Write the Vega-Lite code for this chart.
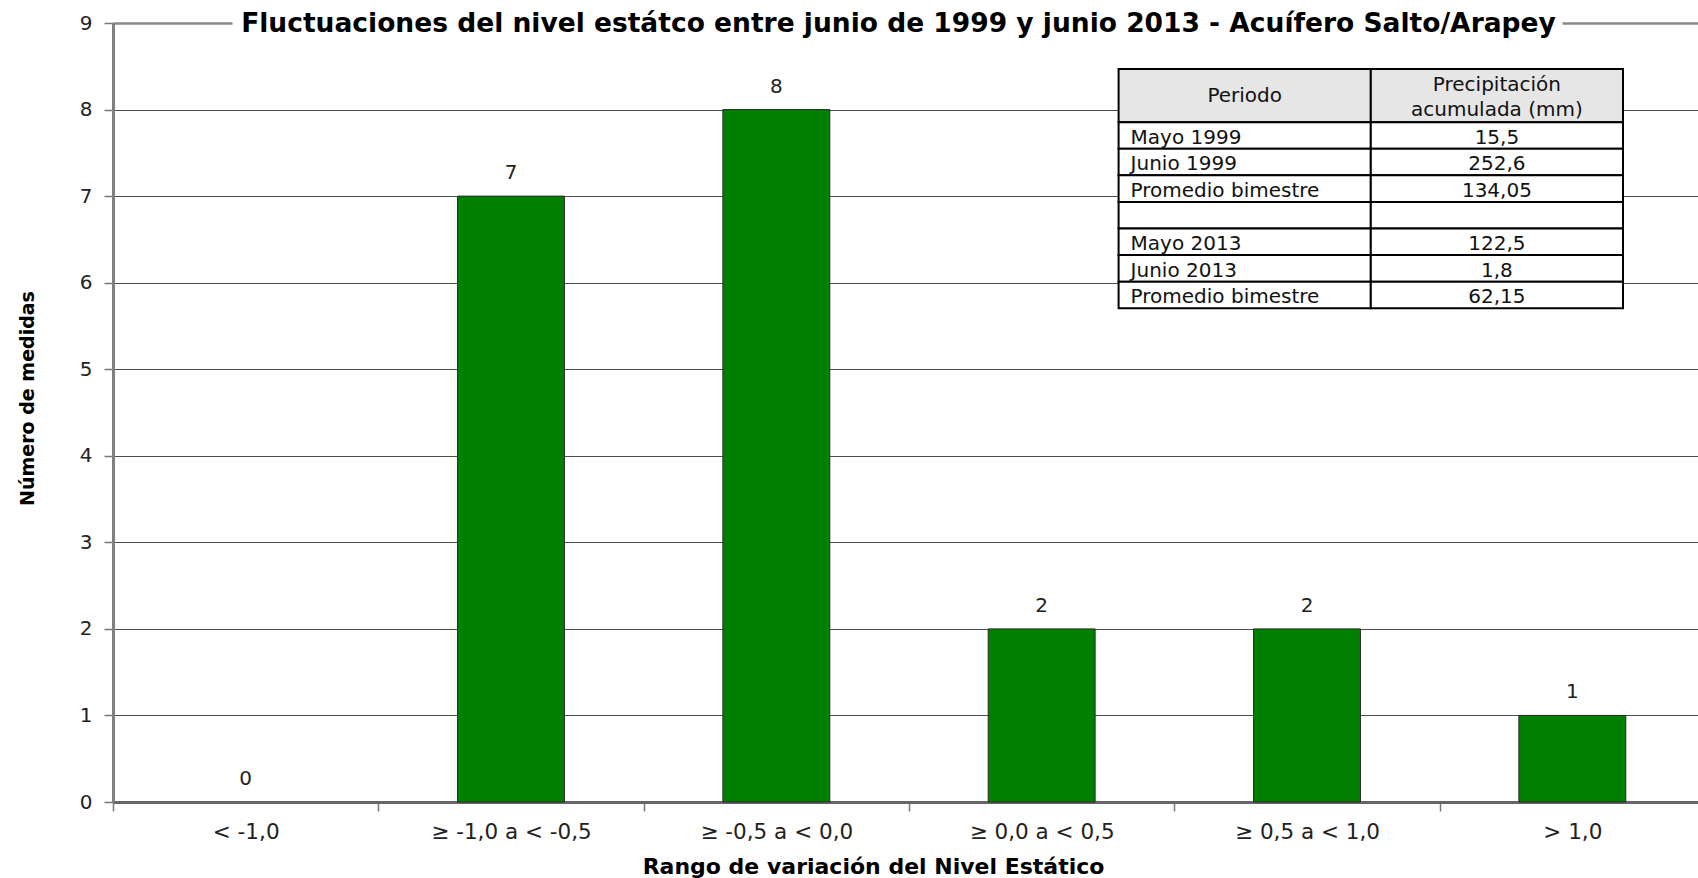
{
  "$schema": "https://vega.github.io/schema/vega-lite/v6.json",
  "width": 1585,
  "height": 779,
  "autosize": {"type": "none"},
  "padding": {"left": 113, "top": 23, "right": 0, "bottom": 76},
  "background": "white",
  "config": {"view": {"stroke": null}, "font": "DejaVu Sans", "text": {"font": "DejaVu Sans"}},
  "title": {
    "text": "Fluctuaciones del nivel estátco entre junio de 1999 y  junio 2013 - Acuífero Salto/Arapey",
    "font": "DejaVu Sans",
    "fontWeight": "bold",
    "fontSize": 26.5,
    "color": "#000000",
    "frame": "group",
    "anchor": "middle",
    "baseline": "middle",
    "offset": 0,
    "dx": -7,
    "dy": 37
  },
  "datasets": {
    "barras": [
      {"rango": "< -1,0", "medidas": 0},
      {"rango": "≥ -1,0 a  < -0,5", "medidas": 7},
      {"rango": "≥ -0,5 a < 0,0", "medidas": 8},
      {"rango": "≥ 0,0 a < 0,5", "medidas": 2},
      {"rango": "≥ 0,5 a < 1,0", "medidas": 2},
      {"rango": "> 1,0", "medidas": 1}
    ],
    "tabla": [
      {"col": "Periodo", "r0": 0, "r1": 2, "texto": "Periodo", "tipo": "cabecera"},
      {"col": "Precipitación", "r0": 0, "r1": 2, "texto": "Precipitación\nacumulada  (mm)", "tipo": "cabecera2"},
      {"col": "Periodo", "r0": 2, "r1": 3, "texto": "Mayo 1999", "tipo": "periodo"},
      {"col": "Precipitación", "r0": 2, "r1": 3, "texto": "15,5", "tipo": "valor"},
      {"col": "Periodo", "r0": 3, "r1": 4, "texto": "Junio 1999", "tipo": "periodo"},
      {"col": "Precipitación", "r0": 3, "r1": 4, "texto": "252,6", "tipo": "valor"},
      {"col": "Periodo", "r0": 4, "r1": 5, "texto": "Promedio bimestre", "tipo": "periodo"},
      {"col": "Precipitación", "r0": 4, "r1": 5, "texto": "134,05", "tipo": "valor"},
      {"col": "Periodo", "r0": 5, "r1": 6, "texto": "", "tipo": "periodo"},
      {"col": "Precipitación", "r0": 5, "r1": 6, "texto": "", "tipo": "valor"},
      {"col": "Periodo", "r0": 6, "r1": 7, "texto": "Mayo 2013", "tipo": "periodo"},
      {"col": "Precipitación", "r0": 6, "r1": 7, "texto": "122,5", "tipo": "valor"},
      {"col": "Periodo", "r0": 7, "r1": 8, "texto": "Junio 2013", "tipo": "periodo"},
      {"col": "Precipitación", "r0": 7, "r1": 8, "texto": "1,8", "tipo": "valor"},
      {"col": "Periodo", "r0": 8, "r1": 9, "texto": "Promedio bimestre", "tipo": "periodo"},
      {"col": "Precipitación", "r0": 8, "r1": 9, "texto": "62,15", "tipo": "valor"}
    ]
  },
  "layer": [
    {
      "data": {"name": "barras"},
      "encoding": {
        "x": {
          "field": "rango",
          "type": "nominal",
          "sort": ["< -1,0", "≥ -1,0 a  < -0,5", "≥ -0,5 a < 0,0", "≥ 0,0 a < 0,5", "≥ 0,5 a < 1,0", "> 1,0"],
          "scale": {"range": [0, 1592], "paddingInner": 0, "paddingOuter": 0},
          "axis": {
            "title": "Rango de variación del Nivel Estático",
            "titleFont": "DejaVu Sans",
            "titleFontWeight": "bold",
            "titleFontSize": 22,
            "titleColor": "#000000",
            "titleX": 760,
            "titleY": 64,
            "titleBaseline": "middle",
            "titleAlign": "center",
            "labelAngle": 0,
            "labelFont": "DejaVu Sans",
            "labelFontSize": 21.5,
            "labelColor": "#222222",
            "labelPadding": 10,
            "tickBand": "extent",
            "tickSize": 9,
            "tickColor": "#777777",
            "tickWidth": 1.5,
            "domainColor": "#666666",
            "domainWidth": 3,
            "grid": false
          }
        },
        "y": {
          "field": "medidas",
          "type": "quantitative",
          "scale": {"domain": [0, 9], "nice": false},
          "axis": {
            "title": "Número de medidas",
            "titleFont": "DejaVu Sans",
            "titleFontWeight": "bold",
            "titleFontSize": 19,
            "titleColor": "#000000",
            "titleAngle": 270,
            "titleX": -86,
            "titleY": 375,
            "titleBaseline": "middle",
            "titleAlign": "center",
            "values": [0, 1, 2, 3, 4, 5, 6, 7, 8, 9],
            "format": "d",
            "labelFont": "DejaVu Sans",
            "labelFontSize": 20,
            "labelColor": "#222222",
            "labelPadding": 12,
            "tickSize": 9,
            "tickColor": "#777777",
            "tickWidth": 1.5,
            "domainColor": "#808080",
            "domainWidth": 3,
            "grid": true,
            "gridColor": {"condition": {"test": "datum.value === 9", "value": "#8a8a8a"}, "value": "#4d4d4d"},
            "gridWidth": {"condition": {"test": "datum.value === 9", "value": 2.5}, "value": 1},
            "gridDash": {"condition": {"test": "datum.value === 9", "value": [119, 1330, 400]}, "value": []}
          }
        }
      },
      "layer": [
        {
          "transform": [{"filter": "datum.medidas > 0"}],
          "mark": {"type": "bar", "fill": "#008000", "stroke": "#2a2a2a", "strokeWidth": 1, "width": {"band": 0.403}},
          "encoding": {}
        },
        {
          "mark": {"type": "text", "dy": -23, "baseline": "middle", "fontSize": 20, "color": "#222222"},
          "encoding": {"text": {"field": "medidas", "type": "quantitative"}}
        }
      ]
    },
    {
      "data": {"name": "tabla"},
      "encoding": {
        "x": {
          "field": "col",
          "type": "nominal",
          "sort": ["Periodo", "Precipitación"],
          "scale": {"range": [1005.6, 1510], "paddingInner": 0, "paddingOuter": 0},
          "axis": null
        }
      },
      "layer": [
        {
          "mark": {"type": "rect", "stroke": "#000000", "strokeWidth": 2},
          "encoding": {
            "y": {"field": "r0", "type": "quantitative", "scale": {"domain": [0, 9], "range": [46, 285.3]}, "axis": null},
            "y2": {"field": "r1"},
            "fill": {"condition": {"test": "datum.tipo === 'cabecera' || datum.tipo === 'cabecera2'", "value": "#e6e6e6"}, "value": "#ffffff"}
          }
        },
        {
          "transform": [{"filter": "datum.tipo === 'cabecera'"}],
          "mark": {"type": "text", "align": "center", "baseline": "middle", "dy": 27, "fontSize": 20, "color": "#111111"},
          "encoding": {
            "y": {"field": "r0", "type": "quantitative", "axis": null},
            "text": {"field": "texto", "type": "nominal"}
          }
        },
        {
          "transform": [{"filter": "datum.tipo === 'cabecera2'"}],
          "mark": {"type": "text", "align": "center", "baseline": "middle", "lineBreak": "\n", "lineHeight": 25, "dy": 16, "fontSize": 20, "color": "#111111"},
          "encoding": {
            "y": {"field": "r0", "type": "quantitative", "axis": null},
            "text": {"field": "texto", "type": "nominal"}
          }
        },
        {
          "transform": [{"filter": "datum.tipo === 'periodo'"}],
          "mark": {"type": "text", "align": "left", "baseline": "alphabetic", "dx": 12, "dy": -5, "fontSize": 20, "color": "#111111"},
          "encoding": {
            "x": {"field": "col", "type": "nominal", "sort": ["Periodo", "Precipitación"], "bandPosition": 0, "axis": null},
            "y": {"field": "r1", "type": "quantitative", "axis": null},
            "text": {"field": "texto", "type": "nominal"}
          }
        },
        {
          "transform": [{"filter": "datum.tipo === 'valor'"}],
          "mark": {"type": "text", "align": "center", "baseline": "alphabetic", "dy": -5, "fontSize": 20, "color": "#111111"},
          "encoding": {
            "y": {"field": "r1", "type": "quantitative", "axis": null},
            "text": {"field": "texto", "type": "nominal"}
          }
        }
      ]
    }
  ],
  "resolve": {"scale": {"x": "independent", "y": "independent"}, "axis": {"x": "independent", "y": "independent"}}
}
